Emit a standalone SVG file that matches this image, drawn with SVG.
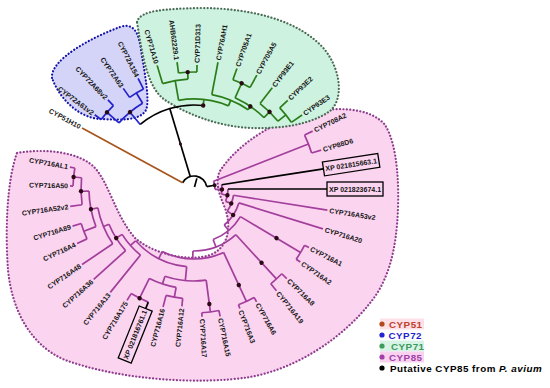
<svg xmlns="http://www.w3.org/2000/svg" width="550" height="388" viewBox="0 0 550 388">
<style>
.hull{stroke-width:2.2;stroke-dasharray:0.1 3.3;stroke-linecap:round}
#connectors path{fill:none;stroke-width:1.7}
.k{stroke:#000}.o{stroke:#a8541c}.b{stroke:#2222cc}.g{stroke:#2b7d1a}.p{stroke:#a23e9c}
.dot{fill:#2a0a14}
text{font-family:"Liberation Sans",Arial,sans-serif;font-weight:bold;font-size:7px;fill:#151515}
.lg{font-size:9.8px;letter-spacing:0.5px}
.box{fill:none;stroke:#000;stroke-width:1.3}
</style>
<g id="clades">
<path id="hull-cyp85" class="hull" fill="#fbd4ef" stroke="#8e3c8e" d="M17,153 C45,148 80,152 95,168 C110,185 115,215 135,238 C155,255 190,262 210,255 C228,248 232,228 225,208 C218,192 214,178 222,168 C235,150 260,128 300,115 C330,106 370,106 385,125 C398,145 400,190 397,225 C394,260 385,285 370,303 C345,335 300,368 250,377 C200,385 120,380 65,360 C30,345 12,310 8,270 C5,230 7,180 17,153 Z"/>
<path id="hull-cyp72" class="hull" fill="#d4d4f8" stroke="#1414a8" d="M52,78 C50,60 90,38 120,27 C135,22 139,35 141,50 C145,75 150,100 146,110 C140,121 120,120 100,119 C80,118 60,100 52,78 Z"/>
<path id="hull-cyp71" class="hull" fill="#cdf2df" stroke="#4a6b55" d="M137,22 C140,10 165,9 200,8 C250,8 300,20 325,50 C342,72 343,100 330,111 C310,125 280,129 250,128 C215,126 185,113 165,100 C148,88 143,60 137,22 Z"/>
</g>
<g id="connectors" transform="translate(194 189)">
<path class="k" d="M13 0A13 13 0 0 1 -10.12 8.16" transform="rotate(208.6)"/>
<path class="k" d="M2 0H11" transform="rotate(285)"/>
<path class="k" d="M13 0H84" transform="rotate(253.25)"/>
<path class="k" d="M84 0A84 84 0 0 1 58.25 60.53" transform="rotate(230.2)"/>
<path class="k" d="M13 0H21" transform="rotate(349.7)"/>
<path class="o" d="M13 0H127.5" transform="rotate(208.6)"/>
<path class="b" d="M84 0H100" transform="rotate(230.2)"/>
<path class="b" d="M100 0A100 100 0 0 1 95.29 30.32" transform="rotate(221.4)"/>
<path class="b" d="M100 0H116" transform="rotate(221.4)"/>
<path class="b" d="M116 0A116 116 0 0 1 114.52 18.55" transform="rotate(216.8)"/>
<path class="b" d="M116 0H124" transform="rotate(216.8)"/>
<path class="b" d="M116 0H124" transform="rotate(226)"/>
<path class="b" d="M100 0H112" transform="rotate(239.05)"/>
<path class="b" d="M112 0A112 112 0 0 1 110.83 16.17" transform="rotate(234.9)"/>
<path class="b" d="M112 0H123" transform="rotate(234.9)"/>
<path class="b" d="M112 0H124" transform="rotate(243.2)"/>
<path class="g" d="M84 0H90" transform="rotate(276.3)"/>
<path class="g" d="M90 0A90 90 0 0 1 76.03 48.15" transform="rotate(260.15)"/>
<path class="g" d="M90 0H110" transform="rotate(260.15)"/>
<path class="g" d="M110 0A110 110 0 0 1 106.96 25.68" transform="rotate(253.4)"/>
<path class="g" d="M110 0H129" transform="rotate(253.4)"/>
<path class="g" d="M110 0H117" transform="rotate(266.9)"/>
<path class="g" d="M117 0A117 117 0 0 1 115.56 18.3" transform="rotate(262.4)"/>
<path class="g" d="M117 0H128" transform="rotate(262.4)"/>
<path class="g" d="M117 0H124" transform="rotate(271.4)"/>
<path class="g" d="M90 0H96" transform="rotate(292.5)"/>
<path class="g" d="M96 0A96 96 0 0 1 87.97 38.43" transform="rotate(280.7)"/>
<path class="g" d="M96 0H129" transform="rotate(280.7)"/>
<path class="g" d="M96 0H100" transform="rotate(304.3)"/>
<path class="g" d="M100 0A100 100 0 0 1 93.88 34.45" transform="rotate(294.25)"/>
<path class="g" d="M100 0H116" transform="rotate(294.25)"/>
<path class="g" d="M116 0A116 116 0 0 1 114.48 18.75" transform="rotate(289.6)"/>
<path class="g" d="M116 0H128" transform="rotate(289.6)"/>
<path class="g" d="M116 0H130" transform="rotate(298.9)"/>
<path class="g" d="M100 0H108" transform="rotate(314.4)"/>
<path class="g" d="M108 0A108 108 0 0 1 105.06 25.03" transform="rotate(307.7)"/>
<path class="g" d="M108 0H128" transform="rotate(307.7)"/>
<path class="g" d="M108 0H118" transform="rotate(321.1)"/>
<path class="g" d="M118 0A118 118 0 0 1 116.55 18.46" transform="rotate(316.6)"/>
<path class="g" d="M118 0H129" transform="rotate(316.6)"/>
<path class="g" d="M118 0H131" transform="rotate(325.6)"/>
<path class="p" d="M21 0A21 21 0 0 1 19.42 8" transform="rotate(-21.5)"/>
<path class="p" d="M21 0H123" transform="rotate(-21.5)"/>
<path class="p" d="M123 0A123 123 0 0 1 121.48 19.24" transform="rotate(-26)"/>
<path class="p" d="M123 0H132" transform="rotate(-26)"/>
<path class="p" d="M123 0H133" transform="rotate(-17)"/>
<path class="p" d="M21 0H28" transform="rotate(0.9)"/>
<path class="p" d="M28 0A28 28 0 0 1 26.4 9.32" transform="rotate(-8.8)"/>
<path class="k" d="M28 0H131" transform="rotate(-8.8)"/>
<path class="p" d="M28 0H34" transform="rotate(10.65)"/>
<path class="p" d="M34 0A34 34 0 0 1 31.68 12.35"/>
<path class="k" d="M34 0H133"/>
<path class="p" d="M34 0H40" transform="rotate(21.3)"/>
<path class="p" d="M40 0A40 40 0 0 1 36.37 16.65" transform="rotate(9)"/>
<path class="p" d="M40 0H135" transform="rotate(9)"/>
<path class="p" d="M40 0H47" transform="rotate(33.6)"/>
<path class="p" d="M47 0A47 47 0 0 1 39.51 25.46" transform="rotate(17.2)"/>
<path class="p" d="M47 0H135" transform="rotate(17.2)"/>
<path class="p" d="M47 0H54" transform="rotate(50)"/>
<path class="p" d="M54 0A54 54 0 0 1 42.26 33.62" transform="rotate(30.75)"/>
<path class="p" d="M54 0H124" transform="rotate(30.75)"/>
<path class="p" d="M124 0A124 124 0 0 1 122.94 16.19" transform="rotate(27)"/>
<path class="p" d="M124 0H129" transform="rotate(27)"/>
<path class="p" d="M124 0H129" transform="rotate(34.5)"/>
<path class="p" d="M54 0H62" transform="rotate(69.25)"/>
<path class="p" d="M62 0A62 62 0 0 1 44.97 42.68" transform="rotate(47.5)"/>
<path class="p" d="M62 0H122" transform="rotate(47.5)"/>
<path class="p" d="M122 0A122 122 0 0 1 121.09 14.87" transform="rotate(44)"/>
<path class="p" d="M122 0H129" transform="rotate(44)"/>
<path class="p" d="M122 0H131" transform="rotate(51)"/>
<path class="p" d="M62 0H70" transform="rotate(91)"/>
<path class="p" d="M70 0A70 70 0 0 1 43.19 55.09" transform="rotate(65)"/>
<path class="p" d="M70 0H124" transform="rotate(65)"/>
<path class="p" d="M124 0A124 124 0 0 1 122.79 17.26" transform="rotate(61)"/>
<path class="p" d="M124 0H129" transform="rotate(61)"/>
<path class="p" d="M124 0H128" transform="rotate(69)"/>
<path class="p" d="M70 0H78" transform="rotate(116.9)"/>
<path class="p" d="M78 0A78 78 0 0 1 57.05 53.2" transform="rotate(95.4)"/>
<path class="p" d="M78 0H92" transform="rotate(95.4)"/>
<path class="p" d="M92 0A92 92 0 0 1 82.69 40.33" transform="rotate(82.4)"/>
<path class="p" d="M92 0H124" transform="rotate(82.4)"/>
<path class="p" d="M124 0A124 124 0 0 1 122.79 17.26" transform="rotate(78.4)"/>
<path class="p" d="M124 0H130" transform="rotate(78.4)"/>
<path class="p" d="M124 0H128" transform="rotate(86.4)"/>
<path class="p" d="M92 0H100" transform="rotate(108.4)"/>
<path class="p" d="M100 0A100 100 0 0 1 96.03 27.9" transform="rotate(100.3)"/>
<path class="p" d="M100 0H110" transform="rotate(100.3)"/>
<path class="p" d="M110 0A110 110 0 0 1 108.71 16.83" transform="rotate(95.9)"/>
<path class="p" d="M110 0H118" transform="rotate(95.9)"/>
<path class="p" d="M110 0H122" transform="rotate(104.7)"/>
<path class="p" d="M100 0H122" transform="rotate(116.5)"/>
<path class="p" d="M122 0A122 122 0 0 1 120.5 19.08" transform="rotate(112)"/>
<path class="k" d="M122 0H129" transform="rotate(112)"/>
<path class="p" d="M122 0H130" transform="rotate(121)"/>
<path class="p" d="M78 0H85" transform="rotate(138.4)"/>
<path class="p" d="M85 0A85 85 0 0 1 80.49 27.32" transform="rotate(129)"/>
<path class="p" d="M85 0H133" transform="rotate(129)"/>
<path class="p" d="M85 0H92" transform="rotate(147.75)"/>
<path class="p" d="M92 0A92 92 0 0 1 86.72 30.71" transform="rotate(138)"/>
<path class="p" d="M92 0H135" transform="rotate(138)"/>
<path class="p" d="M92 0H98" transform="rotate(157.5)"/>
<path class="p" d="M98 0A98 98 0 0 1 90.28 38.13" transform="rotate(146)"/>
<path class="p" d="M98 0H135" transform="rotate(146)"/>
<path class="p" d="M98 0H105" transform="rotate(168.9)"/>
<path class="p" d="M105 0A105 105 0 0 1 98.76 35.65" transform="rotate(159)"/>
<path class="p" d="M105 0H118" transform="rotate(159)"/>
<path class="p" d="M118 0A118 118 0 0 1 116.85 16.42" transform="rotate(155)"/>
<path class="p" d="M118 0H129" transform="rotate(155)"/>
<path class="p" d="M118 0H127" transform="rotate(163)"/>
<path class="p" d="M105 0H113" transform="rotate(178.85)"/>
<path class="p" d="M113 0A113 113 0 0 1 109.79 26.76" transform="rotate(172)"/>
<path class="p" d="M113 0H125" transform="rotate(172)"/>
<path class="p" d="M113 0H121" transform="rotate(185.7)"/>
<path class="p" d="M121 0A121 121 0 0 1 119.64 18.09" transform="rotate(181.4)"/>
<path class="p" d="M121 0H124" transform="rotate(181.4)"/>
<path class="p" d="M121 0H126" transform="rotate(190)"/>
<g id="node-dots">
<circle class="dot" cx="47" cy="0" r="1.5" transform="rotate(253.25)"/>
<circle class="dot" cx="100" cy="0" r="2.2" transform="rotate(230.2)"/>
<circle class="dot" cx="116" cy="0" r="2.2" transform="rotate(221.4)"/>
<circle class="dot" cx="84" cy="0" r="2.2" transform="rotate(276.3)"/>
<circle class="dot" cx="117" cy="0" r="2.2" transform="rotate(266.9)"/>
<circle class="dot" cx="116" cy="0" r="2.2" transform="rotate(294.25)"/>
<circle class="dot" cx="100" cy="0" r="2.2" transform="rotate(304.3)"/>
<circle class="dot" cx="108" cy="0" r="2.2" transform="rotate(314.4)"/>
<circle class="dot" cx="21" cy="0" r="2" transform="rotate(-10.3)"/>
<circle class="dot" cx="28" cy="0" r="2.2" transform="rotate(0.9)"/>
<circle class="dot" cx="34" cy="0" r="2.2" transform="rotate(10.65)"/>
<circle class="dot" cx="40" cy="0" r="2.2" transform="rotate(21.3)"/>
<circle class="dot" cx="47" cy="0" r="2.2" transform="rotate(33.6)"/>
<circle class="dot" cx="96" cy="0" r="2.2" transform="rotate(30.75)"/>
<circle class="dot" cx="100" cy="0" r="2.2" transform="rotate(47.5)"/>
<circle class="dot" cx="106" cy="0" r="2.2" transform="rotate(65)"/>
<circle class="dot" cx="116" cy="0" r="2.2" transform="rotate(82.4)"/>
<circle class="dot" cx="122" cy="0" r="2.2" transform="rotate(116.5)"/>
<circle class="dot" cx="92" cy="0" r="2.2" transform="rotate(147.75)"/>
<circle class="dot" cx="105" cy="0" r="2.2" transform="rotate(168.9)"/>
<circle class="dot" cx="113" cy="0" r="2.2" transform="rotate(178.85)"/>
<circle class="dot" cx="121" cy="0" r="2.2" transform="rotate(185.7)"/>
</g>
</g>
<g id="nodes" transform="translate(194 189)">
<g id="n-CYP51H10"><text transform="rotate(208.6) translate(129.5 0) rotate(180)" text-anchor="end" y="2.5">CYP51H10</text></g>
<g id="n-CYP72A61v2"><text transform="rotate(216.8) translate(126 0) rotate(180)" text-anchor="end" y="2.5">CYP72A61v2</text></g>
<g id="n-CYP72A68v2"><text transform="rotate(226) translate(126 0) rotate(180)" text-anchor="end" y="2.5">CYP72A68v2</text></g>
<g id="n-CYP72A63"><text transform="rotate(234.9) translate(125 0) rotate(180)" text-anchor="end" y="2.5">CYP72A63</text></g>
<g id="n-CYP72A154"><text transform="rotate(243.2) translate(126 0) rotate(180)" text-anchor="end" y="2.5">CYP72A154</text></g>
<g id="n-CYP71A10"><text transform="rotate(253.4) translate(131 0) rotate(180)" text-anchor="end" y="2.5">CYP71A10</text></g>
<g id="n-AHB62229"><text transform="rotate(262.4) translate(130 0) rotate(180)" text-anchor="end" y="2.5">AHB62229.1</text></g>
<g id="n-CYP71D313"><text transform="rotate(271.4) translate(126 0)" y="2.5">CYP71D313</text></g>
<g id="n-CYP76AH1"><text transform="rotate(280.7) translate(131 0)" y="2.5">CYP76AH1</text></g>
<g id="n-CYP705A1"><text transform="rotate(289.6) translate(130 0)" y="2.5">CYP705A1</text></g>
<g id="n-CYP705A5"><text transform="rotate(298.9) translate(132 0)" y="2.5">CYP705A5</text></g>
<g id="n-CYP93E1"><text transform="rotate(307.7) translate(130 0)" y="2.5">CYP93E1</text></g>
<g id="n-CYP93E2"><text transform="rotate(316.6) translate(131 0)" y="2.5">CYP93E2</text></g>
<g id="n-CYP93E3"><text transform="rotate(325.6) translate(133 0)" y="2.5">CYP93E3</text></g>
<g id="n-CYP708A2"><text transform="rotate(-26) translate(134 0)" y="2.5">CYP708A2</text></g>
<g id="n-CYP88D6"><text transform="rotate(-17) translate(135 0)" y="2.5">CYP88D6</text></g>
<g id="n-XP021815663" transform="rotate(-8.8)"><rect class="box" x="131" y="-7" width="56" height="14"/><text x="133" y="2.5">XP 021815663.1</text></g>
<g id="n-XP021823674"><rect class="box" x="133" y="-7" width="56" height="14"/><text x="135" y="2.5">XP 021823674.1</text></g>
<g id="n-CYP716A53v2"><text transform="rotate(9) translate(137 0)" y="2.5">CYP716A53v2</text></g>
<g id="n-CYP716A20"><text transform="rotate(17.2) translate(137 0)" y="2.5">CYP716A20</text></g>
<g id="n-CYP716A1"><text transform="rotate(27) translate(131 0)" y="2.5">CYP716A1</text></g>
<g id="n-CYP716A2"><text transform="rotate(34.5) translate(131 0)" y="2.5">CYP716A2</text></g>
<g id="n-CYP716A8"><text transform="rotate(44) translate(131 0)" y="2.5">CYP716A8</text></g>
<g id="n-CYP716A19"><text transform="rotate(51) translate(133 0)" y="2.5">CYP716A19</text></g>
<g id="n-CYP716A6"><text transform="rotate(61) translate(131 0)" y="2.5">CYP716A6</text></g>
<g id="n-CYP716A3"><text transform="rotate(69) translate(130 0)" y="2.5">CYP716A3</text></g>
<g id="n-CYP716A15"><text transform="rotate(78.4) translate(132 0)" y="2.5">CYP716A15</text></g>
<g id="n-CYP716A17"><text transform="rotate(86.4) translate(130 0)" y="2.5">CYP716A17</text></g>
<g id="n-CYP716A12"><text transform="rotate(95.9) translate(120 0) rotate(180)" text-anchor="end" y="2.5">CYP716A12</text></g>
<g id="n-CYP716A16"><text transform="rotate(104.7) translate(124 0) rotate(180)" text-anchor="end" y="2.5">CYP716A16</text></g>
<g id="n-XP021816761" transform="rotate(112)"><rect class="box" x="129" y="-7" width="56" height="14"/><text transform="translate(131 0) rotate(180)" text-anchor="end" y="2.5">XP 021816761.1</text></g>
<g id="n-CYP716A175"><text transform="rotate(121) translate(132 0) rotate(180)" text-anchor="end" y="2.5">CYP716A175</text></g>
<g id="n-CYP716A13"><text transform="rotate(129) translate(135 0) rotate(180)" text-anchor="end" y="2.5">CYP716A13</text></g>
<g id="n-CYP716A36"><text transform="rotate(138) translate(137 0) rotate(180)" text-anchor="end" y="2.5">CYP716A36</text></g>
<g id="n-CYP716A48"><text transform="rotate(146) translate(137 0) rotate(180)" text-anchor="end" y="2.5">CYP716A48</text></g>
<g id="n-CYP716A4"><text transform="rotate(155) translate(131 0) rotate(180)" text-anchor="end" y="2.5">CYP716A4</text></g>
<g id="n-CYP716A89"><text transform="rotate(163) translate(129 0) rotate(180)" text-anchor="end" y="2.5">CYP716A89</text></g>
<g id="n-CYP716A52v2"><text transform="rotate(172) translate(127 0) rotate(180)" text-anchor="end" y="2.5">CYP716A52v2</text></g>
<g id="n-CYP716A50"><text transform="rotate(181.4) translate(126 0) rotate(180)" text-anchor="end" y="2.5">CYP716A50</text></g>
<g id="n-CYP716AL1"><text transform="rotate(190) translate(128 0) rotate(180)" text-anchor="end" y="2.5">CYP716AL1</text></g>
</g>
<g id="legend">
<rect x="380" y="318.5" width="44" height="11" fill="#fde0e8"/>
<rect x="380" y="340.5" width="44" height="11" fill="#d6f3e5"/>
<rect x="380" y="351.5" width="44" height="11" fill="#f9d2ef"/>
<circle cx="382" cy="324" r="2.6" fill="#b4481c"/>
<circle cx="382" cy="335" r="2.6" fill="#2323d0"/>
<circle cx="382" cy="346" r="2.6" fill="#3c9a5c"/>
<circle cx="382" cy="357" r="2.6" fill="#a040a8"/>
<circle cx="382" cy="368" r="2.6" fill="#000"/>
<text class="lg" x="389" y="327.5" style="fill:#c0402a">CYP51</text>
<text class="lg" x="388.5" y="338.5" style="fill:#1f1fd0">CYP72</text>
<text class="lg" x="391" y="349.5" style="fill:#3c9a5c">CYP71</text>
<text class="lg" x="389" y="360.5" style="fill:#a040a8">CYP85</text>
<text class="lg" x="390" y="371.5" style="fill:#000">Putative CYP85 from <tspan font-style="italic">P. avium</tspan></text>
</g>
</svg>
